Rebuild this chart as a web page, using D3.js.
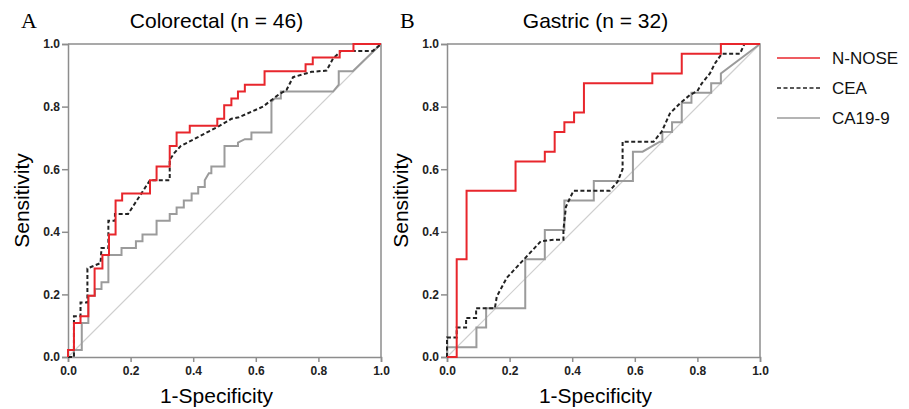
<!DOCTYPE html>
<html>
<head>
<meta charset="utf-8">
<script src="https://cdn.jsdelivr.net/npm/d3@7"></script>
<style>
  body { margin: 0; background: #fff; }
  svg { display: block; }
</style>
</head>
<body>
<svg width="909" height="409"></svg>
<script>
// ROC points as [1-specificity, sensitivity]
const colorectalNNose = [
    [0,0],[0,0.022],[0.019,0.022],[0.019,0.109],[0.04,0.109],[0.04,0.13],[0.065,0.13],[0.065,0.196],
    [0.085,0.196],[0.085,0.283],[0.11,0.283],[0.11,0.326],[0.131,0.326],[0.131,0.391],[0.152,0.391],
    [0.152,0.5],[0.173,0.5],[0.173,0.522],[0.262,0.522],[0.262,0.565],[0.283,0.565],[0.283,0.609],
    [0.325,0.609],[0.325,0.674],[0.347,0.674],[0.347,0.717],[0.389,0.717],[0.389,0.739],[0.477,0.739],
    [0.477,0.761],[0.499,0.761],[0.499,0.804],[0.522,0.804],[0.522,0.826],[0.543,0.826],[0.543,0.848],
    [0.565,0.848],[0.565,0.87],[0.628,0.87],[0.628,0.913],[0.759,0.913],[0.759,0.935],[0.782,0.935],
    [0.782,0.957],[0.868,0.957],[0.868,0.978],[0.912,0.978],[0.912,1],[1,1]
];
const colorectalCEA = [
    [0,0],[0.019,0],[0.019,0.13],[0.04,0.13],[0.04,0.174],[0.062,0.174],[0.062,0.283],[0.104,0.3],
    [0.107,0.348],[0.129,0.348],[0.129,0.435],[0.15,0.435],[0.15,0.457],[0.192,0.457],[0.262,0.565],
    [0.325,0.565],[0.325,0.63],[0.34,0.652],[0.36,0.674],[0.485,0.739],[0.522,0.761],[0.546,0.766],
    [0.623,0.8],[0.671,0.837],[0.698,0.853],[0.719,0.894],[0.778,0.911],[0.826,0.915],[0.847,0.954],
    [0.873,0.978],[0.974,0.978],[1,1]
];
const colorectalCA199 = [
    [0,0],[0.019,0],[0.019,0.022],[0.044,0.022],[0.044,0.109],[0.065,0.109],[0.065,0.196],[0.086,0.196],
    [0.086,0.217],[0.107,0.217],[0.107,0.239],[0.129,0.239],[0.129,0.326],[0.171,0.326],[0.171,0.348],
    [0.217,0.348],[0.217,0.37],[0.238,0.37],[0.238,0.391],[0.283,0.391],[0.283,0.435],[0.325,0.435],
    [0.325,0.457],[0.347,0.457],[0.347,0.478],[0.37,0.478],[0.37,0.5],[0.395,0.5],[0.395,0.522],
    [0.416,0.522],[0.416,0.543],[0.437,0.543],[0.437,0.565],[0.45,0.587],[0.458,0.587],[0.458,0.609],
    [0.5,0.609],[0.5,0.674],[0.543,0.674],[0.543,0.685],[0.565,0.696],[0.586,0.696],[0.586,0.717],
    [0.65,0.717],[0.65,0.815],[0.66,0.826],[0.68,0.826],[0.68,0.848],[0.847,0.848],[0.865,0.87],
    [0.865,0.913],[0.91,0.913],[1,1]
];

const gastricNNose = [
    [0,0],[0.031,0],[0.031,0.3125],[0.0625,0.3125],[0.0625,0.531],[0.219,0.531],[0.219,0.625],
    [0.3125,0.625],[0.3125,0.656],[0.344,0.656],[0.344,0.719],[0.375,0.719],[0.375,0.75],[0.406,0.75],
    [0.406,0.781],[0.4375,0.781],[0.4375,0.875],[0.656,0.875],[0.656,0.906],[0.75,0.906],[0.75,0.969],
    [0.875,0.969],[0.875,1],[1,1]
];
const gastricCEA = [
    [0,0],[0,0.0625],[0.031,0.0625],[0.031,0.094],[0.061,0.094],[0.061,0.125],[0.093,0.125],[0.093,0.156],
    [0.153,0.156],[0.159,0.193],[0.191,0.253],[0.244,0.31],[0.3,0.37],[0.344,0.375],[0.372,0.375],
    [0.372,0.406],[0.38,0.48],[0.404,0.531],[0.52,0.531],[0.545,0.56],[0.561,0.6],[0.561,0.688],
    [0.66,0.688],[0.686,0.72],[0.712,0.778],[0.744,0.81],[0.776,0.837],[0.8,0.85],[0.814,0.874],
    [0.84,0.906],[0.856,0.938],[0.878,0.969],[0.936,0.969],[0.95,1],[1,1]
];
const gastricCA199 = [
    [0,0],[0,0.031],[0.094,0.031],[0.094,0.094],[0.125,0.094],[0.125,0.156],[0.25,0.156],[0.25,0.3125],
    [0.3125,0.3125],[0.3125,0.406],[0.375,0.406],[0.375,0.5],[0.469,0.5],[0.469,0.5625],[0.594,0.5625],
    [0.594,0.656],[0.625,0.656],[0.68,0.688],[0.688,0.688],[0.688,0.719],[0.719,0.719],[0.719,0.75],
    [0.75,0.75],[0.75,0.8125],[0.781,0.8125],[0.781,0.844],[0.844,0.844],[0.844,0.875],[0.875,0.875],
    [0.875,0.906],[1,1]
];

const tickValues = [0, 0.2, 0.4, 0.6, 0.8, 1.0];
const seriesNames = ["N-NOSE", "CEA", "CA19-9"];
const seriesColors = ["#e8262c", "#222222", "#9b9b9b"];
const seriesDash = [null, "4,2.5", null];

const panels = [
    { letter: "A", title: "Colorectal (n = 46)", left: 68, series: [colorectalNNose, colorectalCEA, colorectalCA199] },
    { letter: "B", title: "Gastric (n = 32)", left: 447, series: [gastricNNose, gastricCEA, gastricCA199] }
];

const attr = { top: 44, bottom: 357, width: 313 };
const axisColor = "#8d8d8d";

const svg = d3.select("svg");

panels.forEach(p => drawPanel(p));
drawLegend();

function drawPanel(p) {
    const scX = d3.scaleLinear().domain([0, 1]).range([p.left, p.left + attr.width]);
    const scY = d3.scaleLinear().domain([0, 1]).range([attr.bottom, attr.top]);

    const g = svg.append("g");

    // frame top/right
    g.append("path")
        .attr("d", `M${scX(0)},${scY(1)}H${scX(1)}V${scY(0)}`)
        .attr("fill", "none")
        .attr("stroke", axisColor)
        .attr("stroke-width", 1.5);

    const fmt = d3.format(".1f");

    const axX = g.append("g")
        .attr("transform", `translate(0,${attr.bottom})`)
        .call(d3.axisBottom(scX).tickValues(tickValues).tickFormat(fmt).tickSize(5).tickPadding(4));
    const axY = g.append("g")
        .attr("transform", `translate(${p.left},0)`)
        .call(d3.axisLeft(scY).tickValues(tickValues).tickFormat(fmt).tickSize(6).tickPadding(2));

    [axX, axY].forEach(ax => {
        ax.select(".domain").attr("stroke", axisColor).attr("stroke-width", 1.5);
        ax.selectAll(".tick line").attr("stroke", axisColor).attr("stroke-width", 1.5);
        ax.selectAll("text")
            .attr("fill", "#222")
            .style("font-family", "'Liberation Sans', Arial, sans-serif")
            .style("font-weight", "bold")
            .style("font-size", "12px");
    });

    // chance line
    g.append("line")
        .attr("x1", scX(0)).attr("y1", scY(0))
        .attr("x2", scX(1)).attr("y2", scY(1))
        .attr("stroke", "#cfcfcf")
        .attr("stroke-width", 1.2);

    const line = d3.line()
        .x(d => scX(d[0]))
        .y(d => scY(d[1]));

    // draw grey first, then dashed, then red on top
    [2, 1, 0].forEach(i => {
        g.append("path")
            .datum(p.series[i])
            .attr("d", line)
            .attr("fill", "none")
            .attr("stroke", seriesColors[i])
            .attr("stroke-width", 2)
            .attr("stroke-dasharray", seriesDash[i]);
    });

    const cx = (scX(0) + scX(1)) / 2 - 8;

    g.append("text")
        .attr("x", cx)
        .attr("y", 28)
        .attr("text-anchor", "middle")
        .style("font-family", "'Liberation Sans', Arial, sans-serif")
        .style("font-size", "21px")
        .text(p.title);

    g.append("text")
        .attr("x", p.left - 47)
        .attr("y", 28)
        .style("font-family", "'Liberation Serif', 'Times New Roman', serif")
        .style("font-size", "22px")
        .text(p.letter);

    g.append("text")
        .attr("x", cx)
        .attr("y", 403)
        .attr("text-anchor", "middle")
        .style("font-family", "'Liberation Sans', Arial, sans-serif")
        .style("font-size", "21px")
        .text("1-Specificity");

    g.append("text")
        .attr("transform", `translate(${p.left - 39},${(attr.top + attr.bottom) / 2}) rotate(-90)`)
        .attr("text-anchor", "middle")
        .style("font-family", "'Liberation Sans', Arial, sans-serif")
        .style("font-size", "21px")
        .text("Sensitivity");
}

function drawLegend() {
    const lg = svg.append("g").attr("transform", "translate(777,58)");
    seriesNames.forEach((name, i) => {
        const y = i * 30;
        lg.append("line")
            .attr("x1", 0).attr("x2", 43)
            .attr("y1", y).attr("y2", y)
            .attr("stroke", seriesColors[i])
            .attr("stroke-width", 1.5)
            .attr("stroke-dasharray", seriesDash[i]);
        lg.append("text")
            .attr("x", 55)
            .attr("y", y + 6)
            .style("font-family", "'Liberation Sans', Arial, sans-serif")
            .style("font-size", "17px")
            .attr("fill", "#111")
            .text(name);
    });
}
</script>
</body>
</html>
